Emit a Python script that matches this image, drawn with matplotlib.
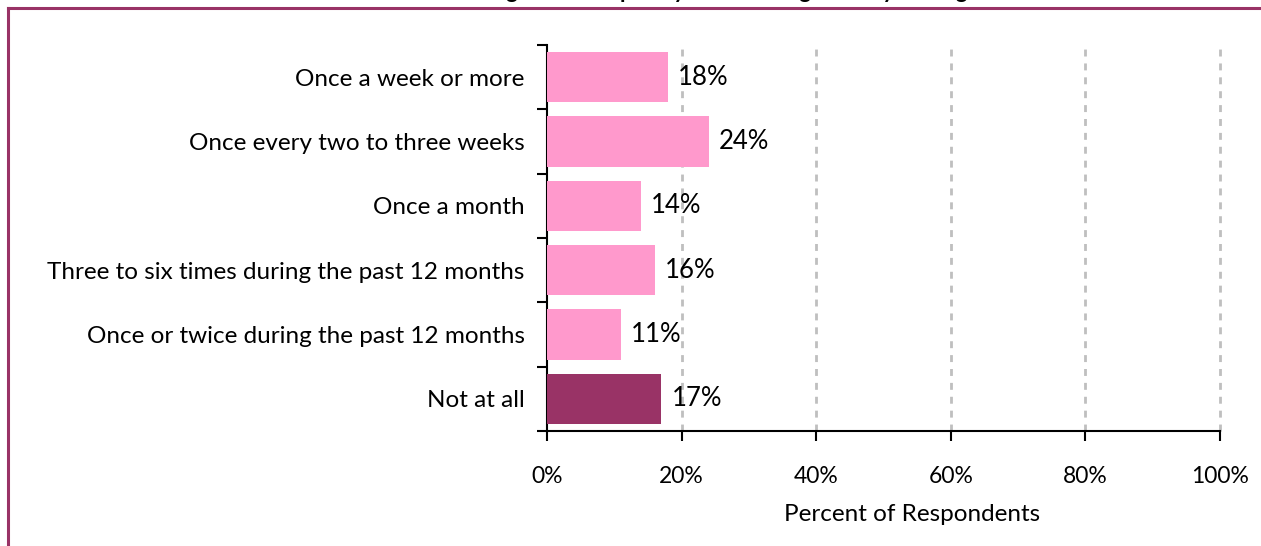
import matplotlib
matplotlib.use("Agg")
import matplotlib.pyplot as plt
from matplotlib.lines import Line2D

categories = [
    "Once a week or more",
    "Once every two to three weeks",
    "Once a month",
    "Three to six times during the past 12 months",
    "Once or twice during the past 12 months",
    "Not at all",
]
values = [18, 24, 14, 16, 11, 17]
bar_colors = ["#FF99CC", "#FF99CC", "#FF99CC", "#FF99CC", "#FF99CC", "#993366"]
x_ticks = [0, 20, 40, 60, 80, 100]
title = "Figure 9. Frequency of Gambling Activity During the Past Year"

plt.rcParams["font.family"] = ["Lato", "DejaVu Sans"]

W, H = 1261, 546
fig = plt.figure(figsize=(W / 100, H / 100), dpi=100)
ax = fig.add_axes([547 / W, 115 / H, 673 / W, 386 / H])

pos = list(range(len(categories)))
ax.barh(pos, values, height=0.78, color=bar_colors, zorder=3)
for p, v in zip(pos, values):
    ax.text(v + 1.5, p, f"{v}%", va="center", ha="left", fontsize=18.5, zorder=4)

ax.set_xlim(0, 100)
ax.set_ylim(len(categories) - 0.5, -0.5)
ax.set_xticks(x_ticks)
ax.set_xticklabels([f"{t}%" for t in x_ticks], fontsize=16.5)
ax.tick_params(axis="x", length=7, width=1.5, direction="out", pad=18)

ax.set_yticks([i - 0.5 for i in range(len(categories) + 1)])
ax.set_yticklabels([])
ax.set_yticks(pos, minor=True)
ax.set_yticklabels(categories, minor=True, fontsize=17.5)
ax.tick_params(axis="y", which="major", length=7, width=1.5)
ax.tick_params(axis="y", which="minor", length=0, pad=16)

for t in x_ticks[1:]:
    ax.axvline(t, color="#BFBFBF", lw=2, ls=(0, (2.5, 2.5)), zorder=1, clip_on=False)

for s in ["top", "right"]:
    ax.spines[s].set_visible(False)
for s in ["left", "bottom"]:
    ax.spines[s].set_linewidth(1.5)

ax.set_xlabel("Percent of Respondents", fontsize=17.5)
ax.xaxis.set_label_coords(0.542, -0.19)

# title sits above the image edge, only its descenders show
fig.text(797 / W, 1 + 2 / H, title, ha="center", va="baseline",
         fontsize=16, fontweight="bold")

# outer frame, only top and left edges fall inside the image
fig.add_artist(Line2D([8 / W, 1.0], [1 - 8 / H, 1 - 8 / H], color="#993366", lw=2.2,
                      transform=fig.transFigure))
fig.add_artist(Line2D([8 / W, 8 / W], [0.0, 1 - 8 / H], color="#993366", lw=2.2,
                      transform=fig.transFigure))

fig.savefig("out.png", dpi=100)
